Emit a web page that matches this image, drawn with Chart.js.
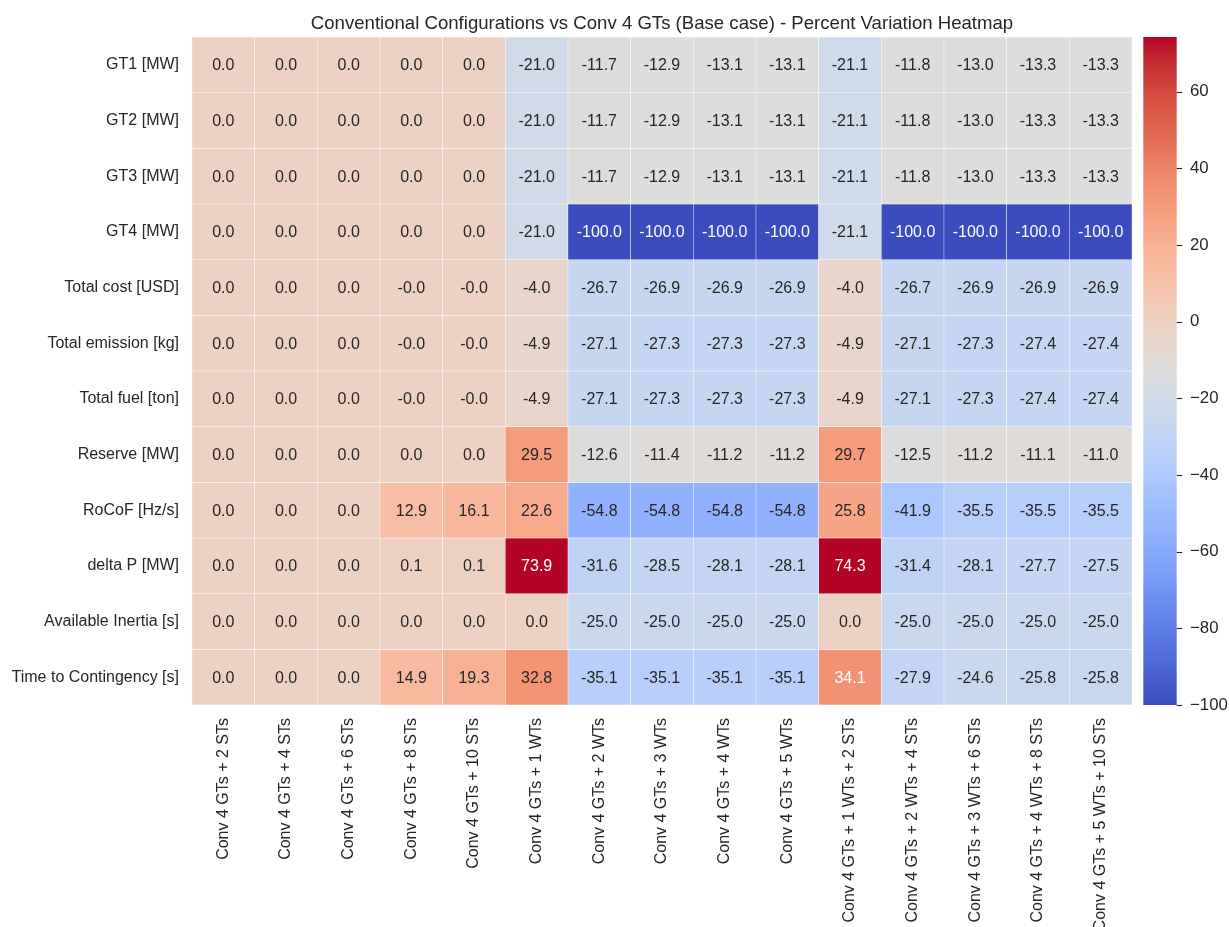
<!DOCTYPE html>
<html>
<head>
<meta charset="utf-8">
<script src="https://cdn.jsdelivr.net/npm/chart.js@4.4.1/dist/chart.umd.min.js"></script>
<style>
  html, body { margin: 0; padding: 0; background: #ffffff; }
  #wrap { width: 1229px; height: 927px; }
</style>
</head>
<body>
<div id="wrap"><canvas id="heatmap" width="1229" height="927"></canvas></div>
<script>
// Percent variation of each metric against the base case (Conv 4 GTs)
const chartTitle = 'Conventional Configurations vs Conv 4 GTs (Base case) - Percent Variation Heatmap';

const configurations = [
  'Conv 4 GTs + 2 STs', 'Conv 4 GTs + 4 STs', 'Conv 4 GTs + 6 STs', 'Conv 4 GTs + 8 STs',
  'Conv 4 GTs + 10 STs', 'Conv 4 GTs + 1 WTs', 'Conv 4 GTs + 2 WTs', 'Conv 4 GTs + 3 WTs',
  'Conv 4 GTs + 4 WTs', 'Conv 4 GTs + 5 WTs', 'Conv 4 GTs + 1 WTs + 2 STs',
  'Conv 4 GTs + 2 WTs + 4 STs', 'Conv 4 GTs + 3 WTs + 6 STs', 'Conv 4 GTs + 4 WTs + 8 STs',
  'Conv 4 GTs + 5 WTs + 10 STs'
];

const metrics = [
  'GT1 [MW]', 'GT2 [MW]', 'GT3 [MW]', 'GT4 [MW]', 'Total cost [USD]', 'Total emission [kg]',
  'Total fuel [ton]', 'Reserve [MW]', 'RoCoF [Hz/s]', 'delta P [MW]', 'Available Inertia [s]',
  'Time to Contingency [s]'
];

const gt1        = [0, 0, 0, 0, 0, -21.0, -11.7, -12.9, -13.1, -13.1, -21.1, -11.8, -13.0, -13.3, -13.3];
const gt2        = [0, 0, 0, 0, 0, -21.0, -11.7, -12.9, -13.1, -13.1, -21.1, -11.8, -13.0, -13.3, -13.3];
const gt3        = [0, 0, 0, 0, 0, -21.0, -11.7, -12.9, -13.1, -13.1, -21.1, -11.8, -13.0, -13.3, -13.3];
const gt4        = [0, 0, 0, 0, 0, -21.0, -100.0, -100.0, -100.0, -100.0, -21.1, -100.0, -100.0, -100.0, -100.0];
const totalCost  = [0, 0, 0, -0.01, -0.01, -4.0, -26.7, -26.9, -26.9, -26.9, -4.0, -26.7, -26.9, -26.9, -26.9];
const totalEmis  = [0, 0, 0, -0.01, -0.01, -4.9, -27.1, -27.3, -27.3, -27.3, -4.9, -27.1, -27.3, -27.4, -27.4];
const totalFuel  = [0, 0, 0, -0.01, -0.01, -4.9, -27.1, -27.3, -27.3, -27.3, -4.9, -27.1, -27.3, -27.4, -27.4];
const reserve    = [0, 0, 0, 0, 0, 29.5, -12.6, -11.4, -11.2, -11.2, 29.7, -12.5, -11.2, -11.1, -11.0];
const rocof      = [0, 0, 0, 12.9, 16.1, 22.6, -54.8, -54.8, -54.8, -54.8, 25.8, -41.9, -35.5, -35.5, -35.5];
const deltaP     = [0, 0, 0, 0.1, 0.1, 73.9, -31.6, -28.5, -28.1, -28.1, 74.3, -31.4, -28.1, -27.7, -27.5];
const inertia    = [0, 0, 0, 0, 0, 0.0, -25.0, -25.0, -25.0, -25.0, 0.0, -25.0, -25.0, -25.0, -25.0];
const timeToCont = [0, 0, 0, 14.9, 19.3, 32.8, -35.1, -35.1, -35.1, -35.1, 34.1, -27.9, -24.6, -25.8, -25.8];

const rows = [gt1, gt2, gt3, gt4, totalCost, totalEmis, totalFuel, reserve, rocof, deltaP, inertia, timeToCont];

const colorbarTicks = [60, 40, 20, 0, -20, -40, -60, -80, -100];

// Color limits follow the data range
const vmin = Math.min(...rows.flat());
const vmax = Math.max(...rows.flat());

// coolwarm diverging colormap control points (position, r, g, b in 0..1)
const COOLWARM = [
  [0.0, 0.2298057, 0.298717966, 0.753683153],
  [0.03125, 0.26623388, 0.353094838, 0.801466763],
  [0.0625, 0.30386891, 0.406535296, 0.84495867],
  [0.09375, 0.342804478, 0.458757618, 0.883725899],
  [0.125, 0.38301334, 0.50941904, 0.917387822],
  [0.15625, 0.424369608, 0.558148092, 0.945619588],
  [0.1875, 0.46666708, 0.604562568, 0.968154911],
  [0.21875, 0.509635204, 0.648280772, 0.98478814],
  [0.25, 0.552953156, 0.688929332, 0.995375608],
  [0.28125, 0.596262162, 0.726149107, 0.999836203],
  [0.3125, 0.639176211, 0.759599947, 0.998151185],
  [0.34375, 0.681291281, 0.788964712, 0.990363227],
  [0.375, 0.722193294, 0.813952739, 0.976574709],
  [0.40625, 0.761464949, 0.834302879, 0.956945269],
  [0.4375, 0.798691636, 0.849786142, 0.931688648],
  [0.46875, 0.833466556, 0.860207984, 0.901068838],
  [0.5, 0.865395197, 0.86541021, 0.865395561],
  [0.53125, 0.897787179, 0.848937047, 0.820880546],
  [0.5625, 0.924127593, 0.827384882, 0.774508472],
  [0.59375, 0.944468518, 0.800927443, 0.726736146],
  [0.625, 0.958852946, 0.769767752, 0.678007945],
  [0.65625, 0.96732803, 0.734132809, 0.628751763],
  [0.6875, 0.969954137, 0.694266682, 0.579375448],
  [0.71875, 0.966811177, 0.650421156, 0.530263762],
  [0.75, 0.958003065, 0.602842431, 0.481775914],
  [0.78125, 0.943660866, 0.551750968, 0.434243684],
  [0.8125, 0.923944917, 0.49730856, 0.387970225],
  [0.84375, 0.89904617, 0.439559467, 0.343229596],
  [0.875, 0.869186849, 0.378313092, 0.300267182],
  [0.90625, 0.834620542, 0.312874446, 0.259301199],
  [0.9375, 0.795631745, 0.24128379, 0.220525627],
  [0.96875, 0.752534934, 0.157246067, 0.184115123],
  [1.0, 0.705673158, 0.01555616, 0.150232812]
];

function cmapRGB(t) {
  t = Math.max(0, Math.min(1, t));
  for (let i = 1; i < COOLWARM.length; i++) {
    const a = COOLWARM[i - 1], b = COOLWARM[i];
    if (t <= b[0]) {
      const f = (t - a[0]) / (b[0] - a[0]);
      return [a[1] + f * (b[1] - a[1]), a[2] + f * (b[2] - a[2]), a[3] + f * (b[3] - a[3])];
    }
  }
  const last = COOLWARM[COOLWARM.length - 1];
  return [last[1], last[2], last[3]];
}

// 256-entry lookup, same quantisation as a colormap LUT
function valueRGB(v) {
  const t = (v - vmin) / (vmax - vmin);
  const idx = Math.min(255, Math.max(0, Math.floor(t * 256)));
  return cmapRGB(idx / 255);
}

function toCss(rgb) {
  return 'rgb(' + rgb.map(c => Math.round(c * 255)).join(',') + ')';
}

function luminance(rgb) {
  const lin = rgb.map(c => (c <= 0.03928 ? c / 12.92 : Math.pow((c + 0.055) / 1.055, 2.4)));
  return 0.2126 * lin[0] + 0.7152 * lin[1] + 0.0722 * lin[2];
}

const TEXT_DARK = 'rgb(38,38,38)';
const FONT = '"Liberation Sans", Arial, "DejaVu Sans", sans-serif';

// One floating-bar dataset per metric row; every cell spans one row band
const datasets = rows.map((vals, r) => ({
  label: metrics[r],
  data: vals.map(() => [r, r + 1]),
  values: vals,
  backgroundColor: ctx => toCss(valueRGB(vals[ctx.dataIndex])),
  borderColor: '#ffffff',
  borderWidth: 0.5,
  borderSkipped: false,
  barPercentage: 1.0,
  categoryPercentage: 1.0,
  grouped: false,
  yAxisID: 'y'
}));

const titlePlugin = {
  id: 'titleText',
  afterDraw(chart) {
    const { ctx, chartArea } = chart;
    ctx.save();
    ctx.font = '18.6px ' + FONT;
    ctx.fillStyle = TEXT_DARK;
    ctx.textAlign = 'center';
    ctx.textBaseline = 'alphabetic';
    ctx.fillText(chartTitle, (chartArea.left + chartArea.right) / 2, 29);
    ctx.restore();
  }
};

const annotationPlugin = {
  id: 'cellValues',
  afterDatasetsDraw(chart) {
    const { ctx } = chart;
    ctx.save();
    ctx.font = '16px ' + FONT;
    ctx.textAlign = 'center';
    ctx.textBaseline = 'middle';
    chart.data.datasets.forEach((ds, di) => {
      const meta = chart.getDatasetMeta(di);
      meta.data.forEach((el, i) => {
        const v = ds.values[i];
        const rgb = valueRGB(v);
        ctx.fillStyle = luminance(rgb) > 0.408 ? TEXT_DARK : '#ffffff';
        ctx.fillText(v.toFixed(1), el.x, (el.y + el.base) / 2 + 1);
      });
    });
    ctx.restore();
  }
};

const colorbarPlugin = {
  id: 'colorbar',
  afterDraw(chart) {
    const { ctx } = chart;
    const s = chart.scales.cbar;
    const x0 = s.left + 11.3;
    const w = 33.4;
    const yTop = s.getPixelForValue(vmax);
    const yBot = s.getPixelForValue(vmin);
    ctx.save();
    const grad = ctx.createLinearGradient(0, yBot, 0, yTop);
    for (let i = 0; i <= 64; i++) {
      const t = i / 64;
      grad.addColorStop(t, toCss(cmapRGB(t)));
    }
    ctx.fillStyle = grad;
    ctx.fillRect(x0, yTop, w, yBot - yTop);
    ctx.strokeStyle = TEXT_DARK;
    ctx.lineWidth = 1.1;
    colorbarTicks.forEach(v => {
      const y = Math.round(s.getPixelForValue(v)) + 0.5;
      ctx.beginPath();
      ctx.moveTo(x0 + w, y);
      ctx.lineTo(x0 + w + 5.5, y);
      ctx.stroke();
    });
    ctx.restore();
  }
};

const tickFont = { family: FONT, size: 16 };

// Fixed axis thicknesses; no extra edge padding for the outermost labels
function noEdgePadding(scale) {
  scale.paddingTop = 0;
  scale.paddingBottom = 0;
  scale.paddingLeft = 0;
  scale.paddingRight = 0;
}

new Chart(document.getElementById('heatmap'), {
  type: 'bar',
  data: { labels: configurations, datasets },
  options: {
    responsive: false,
    devicePixelRatio: 1,
    animation: false,
    layout: { padding: { top: 37, left: 0, right: 0, bottom: 0 } },
    plugins: {
      legend: { display: false },
      tooltip: { enabled: false },
      title: { display: false }
    },
    scales: {
      x: {
        type: 'category',
        offset: true,
        grid: { display: false, drawTicks: false },
        border: { display: false },
        ticks: {
          autoSkip: false, minRotation: 90, maxRotation: 90,
          padding: 13, color: TEXT_DARK, font: tickFont
        },
        afterFit(scale) { noEdgePadding(scale); scale.height = 222; }
      },
      y: {
        type: 'linear',
        position: 'left',
        min: 0, max: 12, reverse: true,
        grid: { display: false, drawTicks: false },
        border: { display: false },
        afterBuildTicks(scale) { scale.ticks = metrics.map((_, i) => ({ value: i + 0.5 })); },
        ticks: {
          autoSkip: false, padding: 13, color: TEXT_DARK, font: tickFont,
          callback: (v) => metrics[Math.floor(v)]
        },
        afterFit(scale) { noEdgePadding(scale); scale.width = 192; }
      },
      cbar: {
        type: 'linear',
        position: 'right',
        min: vmin, max: vmax,
        grid: { display: false, drawTicks: false },
        border: { display: false },
        afterBuildTicks(scale) { scale.ticks = colorbarTicks.map(v => ({ value: v })); },
        ticks: {
          autoSkip: false, padding: 58, color: TEXT_DARK, font: { family: FONT, size: 16.8 },
          callback: (v) => (v < 0 ? '\u2212' + Math.abs(v) : String(v))
        },
        afterFit(scale) { noEdgePadding(scale); scale.width = 97; }
      }
    }
  },
  plugins: [titlePlugin, annotationPlugin, colorbarPlugin]
});
</script>
</body>
</html>
